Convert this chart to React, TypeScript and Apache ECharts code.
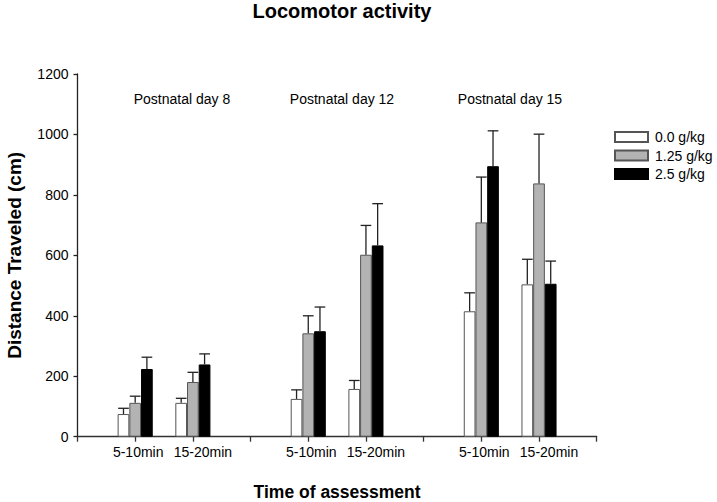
import React, { useEffect, useRef } from "react";
import * as echarts from "echarts";

const FONT = "'Liberation Sans', Arial, Helvetica, sans-serif";

// Categories (one per time window inside each postnatal day)
const days = ["Postnatal day 8", "Postnatal day 12", "Postnatal day 15"];
const windows = ["5-10min", "15-20min"];
const seriesNames = ["0.0 g/kg", "1.25 g/kg", "2.5 g/kg"];

// Means (cm), order: d8 5-10, d8 15-20, d12 5-10, d12 15-20, d15 5-10, d15 15-20
const dose00 = [75, 112, 125, 158, 415, 504];
const dose125 = [112, 181, 342, 602, 709, 838];
const dose25 = [224, 239, 349, 633, 895, 506];

// Upper error (SEM, cm)
const err00 = [19, 15, 30, 28, 61, 83];
const err125 = [22, 32, 58, 97, 150, 163];
const err25 = [39, 35, 80, 138, 117, 75];

const yTicks = { min: 0, max: 1200, interval: 200 };

// Build slotted category axis: spacer, 5-10, 15-20, spacer, ...
const slotCats: string[] = [""];
const slotIndex: number[] = [];
days.forEach(() => {
  windows.forEach((w) => {
    slotIndex.push(slotCats.length);
    slotCats.push(w);
  });
  slotCats.push("");
});

function toSlots(vals: number[]) {
  const out: (number | null)[] = slotCats.map(() => null);
  vals.forEach((v, i) => {
    out[slotIndex[i]] = v;
  });
  return out;
}

const BAR_W = 11.7;

export default function App() {
  const ref = useRef<HTMLDivElement>(null);

  useEffect(() => {
    if (!ref.current) return;
    const chart = echarts.init(ref.current, undefined, { renderer: "svg" });

    const means = [dose00, dose125, dose25];
    const errs = [err00, err125, err25];
    const styles = [
      { color: "#ffffff", borderColor: "#555555", borderWidth: 1 },
      { color: "#b3b3b3", borderColor: "#555555", borderWidth: 1 },
      { color: "#000000", borderColor: "#000000", borderWidth: 1 },
    ];

    const barSeries = seriesNames.map((name, s) => ({
      name,
      type: "bar",
      data: toSlots(means[s]),
      barWidth: BAR_W,
      barGap: "0%",
      itemStyle: styles[s],
      z: 2,
    }));

    const errSeries = seriesNames.map((name, s) => ({
      name: name + " err",
      type: "custom",
      z: 3,
      data: means[s].map((m, i) => [slotIndex[i], m, m + errs[s][i]]),
      encode: { x: 0, y: [1, 2] },
      renderItem: (params: any, api: any) => {
        const idx = api.value(0);
        const base = api.coord([idx, api.value(1)]);
        const top = api.coord([idx, api.value(2)]);
        const x = base[0] + (s - 1) * BAR_W;
        const half = BAR_W / 2 - 0.5;
        const st = { stroke: "#222222", lineWidth: 1.3 };
        return {
          type: "group",
          children: [
            { type: "line", shape: { x1: x, y1: base[1], x2: x, y2: top[1] }, style: st },
            { type: "line", shape: { x1: x - half, y1: top[1], x2: x + half, y2: top[1] }, style: st },
          ],
        };
      },
    }));

    const dayCenters = [182, 342, 510];

    chart.setOption({
      animation: false,
      backgroundColor: "#ffffff",
      textStyle: { fontFamily: FONT },
      title: {
        text: "Locomotor activity",
        left: 342,
        textAlign: "center",
        top: 1,
        padding: 0,
        textStyle: { fontFamily: FONT, fontSize: 20, fontWeight: "bold", color: "#000" },
      },
      legend: {
        data: seriesNames,
        orient: "vertical",
        left: 614,
        top: 130,
        padding: 0,
        itemWidth: 33,
        itemHeight: 10,
        itemGap: 4.5,
        icon: "rect",
        textStyle: { fontFamily: FONT, fontSize: 14, color: "#000", lineHeight: 14, padding: [0, 0, 0, 2] },
      },
      grid: {
        left: 77.5,
        right: 120.3,
        top: 74,
        bottom: 65.3,
        containLabel: false,
        outerBoundsMode: "none",
      },
      xAxis: {
        type: "category",
        data: slotCats,
        boundaryGap: false,
        name: "Time of assessment",
        nameLocation: "middle",
        nameGap: 46,
        nameTextStyle: { fontFamily: FONT, fontSize: 17.5, fontWeight: "bold", color: "#000" },
        axisLine: { show: true, lineStyle: { color: "#333", width: 1.3 } },
        axisTick: { show: true, interval: 0, length: 5, lineStyle: { color: "#333", width: 1.3 } },
        axisLabel: {
          interval: 0,
          margin: 8,
          fontFamily: FONT,
          fontSize: 14,
          color: "#000",
          formatter: (v: string) => (v === windows[0] ? `{a|${v}}` : v === windows[1] ? `{b|${v}}` : ""),
          rich: {
            a: { fontFamily: FONT, fontSize: 14, color: "#000", padding: [0, 0, 0, 6] },
            b: { fontFamily: FONT, fontSize: 14, color: "#000", padding: [0, 0, 0, 20] },
          },
        },
        splitLine: { show: false },
      },
      yAxis: {
        type: "value",
        min: yTicks.min,
        max: yTicks.max,
        interval: yTicks.interval,
        name: "Distance Traveled (cm)",
        nameLocation: "middle",
        nameRotate: 90,
        nameGap: 54,
        nameTextStyle: { fontFamily: FONT, fontSize: 19, fontWeight: "bold", color: "#000" },
        axisLine: { show: true, lineStyle: { color: "#222", width: 1.3 } },
        axisTick: { show: true, length: 4, lineStyle: { color: "#222", width: 1.3 } },
        axisLabel: {
          margin: 9,
          fontFamily: FONT,
          fontSize: 14,
          color: "#000",
          formatter: (v: number) => String(v),
        },
        splitLine: { show: false },
      },
      graphic: days.map((d, i) => ({
        type: "text",
        x: dayCenters[i],
        y: 99,
        style: {
          text: d,
          fontFamily: FONT,
          fontSize: 14,
          fill: "#000",
          textAlign: "center",
          textVerticalAlign: "middle",
        },
      })),
      series: [...barSeries, ...errSeries],
    });

    return () => chart.dispose();
  }, []);

  return (
    <div
      ref={ref}
      style={{ position: "fixed", left: 0, top: 0, width: 717, height: 502, background: "#fff" }}
    />
  );
}
